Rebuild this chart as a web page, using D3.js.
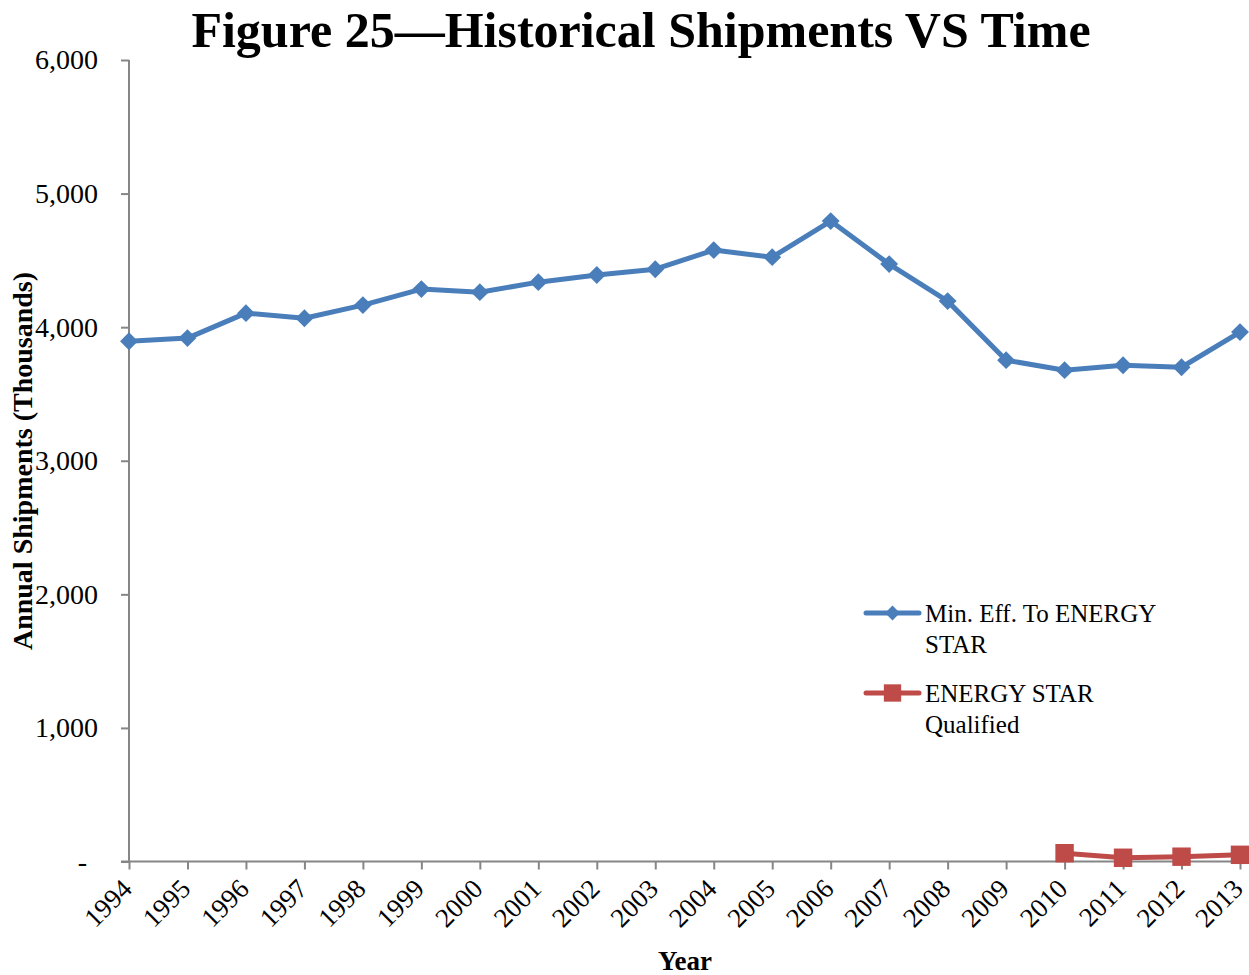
<!DOCTYPE html>
<html>
<head>
<meta charset="utf-8">
<script src="https://cdn.jsdelivr.net/npm/d3@7"></script>
<style>
  body { margin: 0; background: #fff; }
  text { font-family: "Liberation Serif", "DejaVu Serif", serif; fill: #000; }
</style>
</head>
<body>
<script>
const years = ["1994","1995","1996","1997","1998","1999","2000","2001","2002","2003",
               "2004","2005","2006","2007","2008","2009","2010","2011","2012","2013"];
const minEff = [3895,3918,4105,4067,4165,4285,4262,4337,4390,4434,
                4577,4524,4794,4472,4195,3753,3678,3715,3700,3963];
const esYears = ["2010","2011","2012","2013"];
const esQualified = [62,28,36,50];
const yTicks = [0,1000,2000,3000,4000,5000,6000];
const seriesNames = ["Min. Eff. To ENERGY STAR", "ENERGY STAR Qualified"];

const blue = "#4a7ebb", red = "#be4b48", axisGrey = "#868686";

var svg = d3.select("body")
            .append("svg")
            .attr("width",1249)
            .attr("height",975);

var xScale = d3.scalePoint()
            .domain(years)
            .range([129, 1240]);

var yScale = d3.scaleLinear()
            .domain([0, 6000])
            .range([861.5, 60]);

// y axis
var yAxis = svg.append("g")
            .attr("transform","translate(129,0)")
            .call(d3.axisLeft(yScale)
              .tickValues(yTicks)
              .tickSize(8)
              .tickPadding(23)
              .tickFormat(d => d === 0 ? "-" : d3.format(",")(d)));
yAxis.select(".domain").remove();
yAxis.selectAll("line").attr("stroke", axisGrey).attr("stroke-width", 2);
yAxis.selectAll("text")
            .style("font-size","28px")
            .attr("dx", d => d === 0 ? -11 : 0);

svg.append("line")
            .attr("x1",129).attr("x2",129)
            .attr("y1",yScale(6000)).attr("y2",yScale(0))
            .attr("stroke",axisGrey).attr("stroke-width",2);

// x axis
var xAxis = svg.append("g")
            .attr("transform",`translate(0,${yScale(0)})`)
            .call(d3.axisBottom(xScale).tickSize(8).tickSizeOuter(0));
xAxis.select(".domain").remove();
xAxis.selectAll("line").attr("stroke", axisGrey).attr("stroke-width", 2);
xAxis.selectAll("text")
            .attr("y",0).attr("dy",0)
            .attr("text-anchor","end")
            .attr("transform","translate(4,29) rotate(-45)")
            .style("font-size","27px");

svg.append("line")
            .attr("x1",121).attr("x2",1240)
            .attr("y1",yScale(0)).attr("y2",yScale(0))
            .attr("stroke",axisGrey).attr("stroke-width",2);

// titles
svg.append("text")
            .attr("x",641).attr("y",47)
            .attr("text-anchor","middle")
            .style("font-size","50px").style("font-weight","bold")
            .text("Figure 25\u2014Historical Shipments VS Time");

svg.append("text")
            .attr("transform","translate(32,461) rotate(-90)")
            .attr("text-anchor","middle")
            .style("font-size","28px").style("font-weight","bold")
            .text("Annual Shipments (Thousands)");

svg.append("text")
            .attr("x",685).attr("y",970)
            .attr("text-anchor","middle")
            .style("font-size","27px").style("font-weight","bold")
            .text("Year");

// lines
var line = d3.line()
            .x(d => xScale(d[0]))
            .y(d => yScale(d[1]));

var blueData = years.map((y,i) => [y, minEff[i]]);
var redData = esYears.map((y,i) => [y, esQualified[i]]);

svg.append("path")
            .datum(blueData)
            .attr("d", line)
            .attr("fill","none")
            .attr("stroke",blue)
            .attr("stroke-width",5)
            .attr("stroke-linejoin","round");

svg.append("path")
            .datum(redData)
            .attr("d", line)
            .attr("fill","none")
            .attr("stroke",red)
            .attr("stroke-width",5)
            .attr("stroke-linejoin","round");

var diamond = d3.symbol().type(d3.symbolSquare).size(160);
var square = d3.symbol().type(d3.symbolSquare).size(340);

svg.selectAll(".dia")
            .data(blueData)
            .enter().append("path")
            .attr("class","dia")
            .attr("d", diamond)
            .attr("transform", d => `translate(${xScale(d[0])},${yScale(d[1])}) rotate(45)`)
            .attr("fill",blue);

svg.selectAll(".sq")
            .data(redData)
            .enter().append("path")
            .attr("class","sq")
            .attr("d", square)
            .attr("transform", d => `translate(${xScale(d[0])},${yScale(d[1])})`)
            .attr("fill",red);

// legend
var legend = svg.append("g");
var legendRows = [
  {y: 613, color: blue, sym: d3.symbol().type(d3.symbolSquare).size(110), rot: 45, lines: ["Min. Eff. To ENERGY", "STAR"]},
  {y: 693, color: red, sym: d3.symbol().type(d3.symbolSquare).size(300), rot: 0, lines: ["ENERGY STAR", "Qualified"]}
];
legendRows.forEach((r, i) => {
  legend.append("line")
            .attr("x1",866).attr("x2",919)
            .attr("y1",r.y).attr("y2",r.y)
            .attr("stroke",r.color).attr("stroke-width",5)
            .attr("stroke-linecap","round");
  legend.append("path")
            .attr("d", r.sym)
            .attr("transform",`translate(892.5,${r.y}) rotate(${r.rot})`)
            .attr("fill",r.color);
  var t = legend.append("text")
            .attr("x",925).attr("y",r.y + 9)
            .style("font-size","25px")
            .attr("aria-label", seriesNames[i]);
  r.lines.forEach((l, j) => {
    t.append("tspan").attr("x",925).attr("dy", j === 0 ? 0 : 31).text(l);
  });
});
</script>
</body>
</html>
